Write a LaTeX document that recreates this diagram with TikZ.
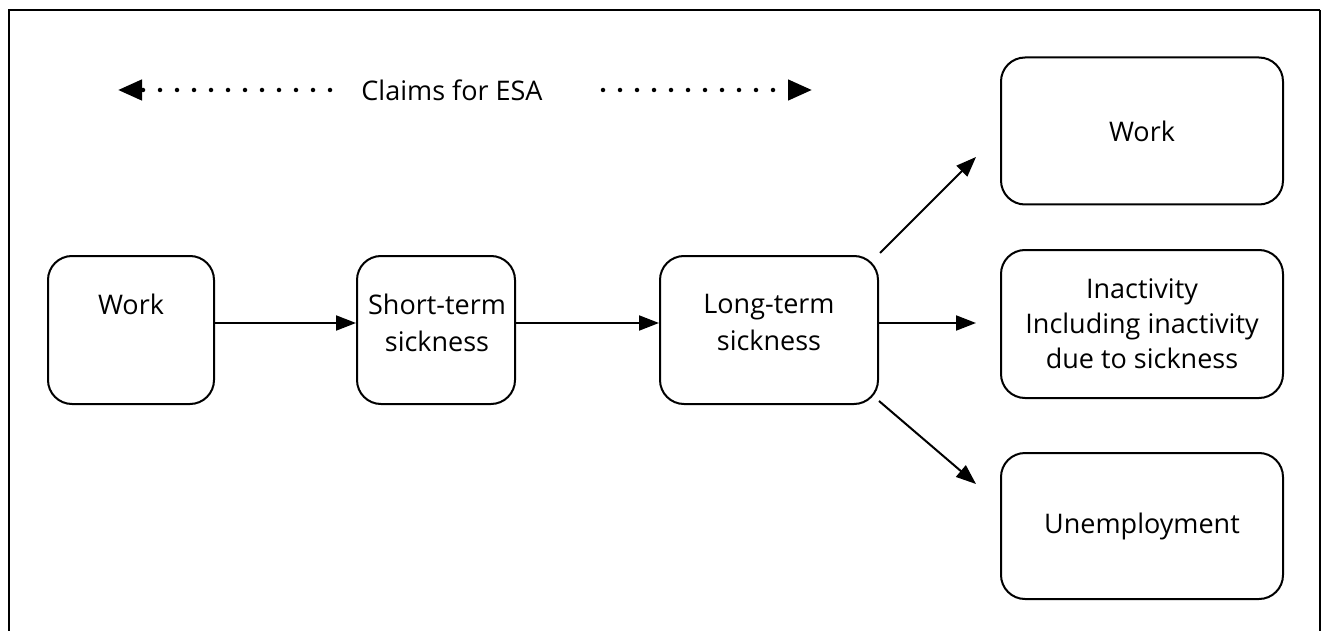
\documentclass[tikz,border=0pt]{standalone}
\usepackage{fontspec}
\setmainfont{Open Sans}
\usetikzlibrary{arrows.meta,calc}
\begin{document}
\begin{tikzpicture}[x=1pt,y=-1pt,
  box/.style={draw,line width=2pt,rounded corners=24pt,inner sep=0pt},
  lbl/.style={font=\fontsize{27}{35}\selectfont,align=center,inner sep=0pt},
  arr/.style={line width=2pt,-{Triangle[length=20pt,width=15pt]}},
  dotline/.style={line width=4.5pt,line cap=round,dash pattern=on 0pt off 17pt,-{Triangle[length=24pt,width=20pt]}},
]
\useasboundingbox (0,0) rectangle (1322,631);
\draw[line width=2.5pt] (9,632) -- (9,10) -- (1320,10);
\draw[line width=1.5pt] (1320,10) -- (1320,632);

% boxes
\node[box,minimum width=166pt,minimum height=148pt] (w1) at (131,330) {};
\node[box,minimum width=158pt,minimum height=148pt] (st) at (436,330) {};
\node[box,minimum width=218pt,minimum height=148pt] (lt) at (769,330) {};
\node[box,minimum width=282pt,minimum height=147pt,lbl] (rw) at (1142,131) {Work};
\node[box,minimum width=282pt,minimum height=148pt,lbl] (ina) at (1142,324) {Inactivity\\Including inactivity\\due to sickness};
\node[box,minimum width=282pt,minimum height=146pt,lbl] (un) at (1142,526) {Unemployment};

\node[lbl,anchor=north] (w1t) at (131,294) {Work};
\node[lbl,anchor=north] (stt) at (437,294) {Short-term\\[2pt]sickness};
\node[lbl,anchor=north] (ltt) at (769,294) {Long-term\\[2pt]sickness};

% arrows
\draw[arr] (w1.east |- 0,323) -- (st.west |- 0,323);
\draw[arr] (st.east |- 0,323) -- (lt.west |- 0,323);
\coordinate (up0) at (880,253);
\coordinate (up1) at (976,157);
\coordinate (mid1) at (976,323);
\coordinate (dn0) at (879,401);
\coordinate (dn1) at (976,484);
\draw[arr] (up0) -- (up1);
\draw[arr] (lt.east |- 0,323) -- (mid1);
\draw[arr] (dn0) -- (dn1);

% claims
\node[lbl] (claims) at (452,90) {Claims for ESA};
\coordinate (cl0) at (330,90);
\coordinate (cl1) at (118,90);
\coordinate (cr0) at (603,90);
\coordinate (cr1) at (812,90);
\draw[dotline] (cl0) -- (cl1);
\draw[dotline] (cr0) -- (cr1);
\end{tikzpicture}
\end{document}
